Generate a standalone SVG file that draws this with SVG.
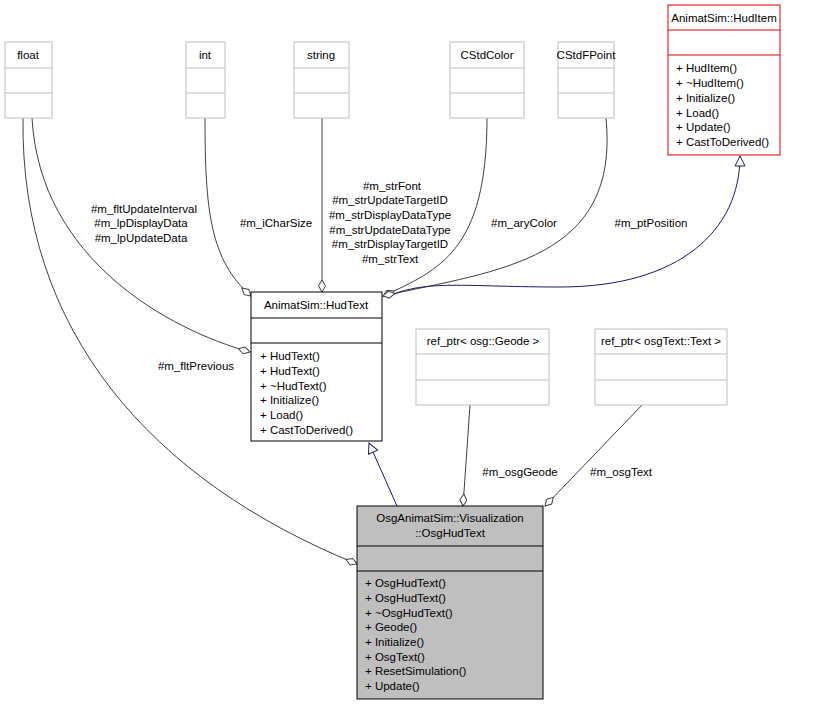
<svg xmlns="http://www.w3.org/2000/svg" width="815" height="705" viewBox="0 0 815 705">
<style>
text{font-family:"Liberation Sans","DejaVu Sans",sans-serif;font-size:11.5px;fill:#000}
.g{fill:#fff;stroke:#bfbfbf;stroke-width:1}
.b{fill:#fff;stroke:#000;stroke-width:1}
.r{fill:#fff;stroke:#e00000;stroke-width:1}
.e{fill:none;stroke:#404040;stroke-width:1}
.i{fill:none;stroke:#191970;stroke-width:1}
.m{text-anchor:middle}
</style>
<defs>
<marker id="dia" viewBox="0 0 14 8" refX="13" refY="4" markerWidth="14" markerHeight="8" orient="auto" markerUnits="userSpaceOnUse"><path d="M1,4 L7,0.5 L13,4 L7,7.5 Z" fill="#fff" stroke="#404040"/></marker>
<marker id="tri" viewBox="0 0 12 12" refX="11" refY="6" markerWidth="12" markerHeight="12" orient="auto" markerUnits="userSpaceOnUse"><path d="M1,1 L11,6 L1,11 Z" fill="#fff" stroke="#191970"/></marker>
</defs>
<g id="connectors">
<path class="e" d="M32,118 C40,260 170,330 250,352" marker-end="url(#dia)"/>
<path class="e" d="M23,118 C20,330 150,480 357,564" marker-end="url(#dia)"/>
<path class="e" d="M205,118 C205,210 210,260 251,296" marker-end="url(#dia)"/>
<path class="e" d="M322,118 L322,292" marker-end="url(#dia)"/>
<path class="e" d="M487,118 C487,250 440,270 383,296" marker-end="url(#dia)"/>
<path class="e" d="M606,118 C620,260 500,270 383,296" marker-end="url(#dia)"/>
<path class="i" d="M394,294 C430,280 470,287 560,287 C680,287 740,230 740,156" marker-end="url(#tri)"/>
<path class="i" d="M397,506 L369,443" marker-end="url(#tri)"/>
<path class="e" d="M470,405 L463,506" marker-end="url(#dia)"/>
<path class="e" d="M642,405 L545,506" marker-end="url(#dia)"/>
<text x="144" y="213" class="m">#m_fltUpdateInterval</text>
<text x="141" y="227" class="m">#m_lpDisplayData</text>
<text x="141" y="242" class="m">#m_lpUpdateData</text>
<text x="276" y="227" class="m">#m_iCharSize</text>
<text x="392" y="190" class="m">#m_strFont</text>
<text x="390" y="204" class="m">#m_strUpdateTargetID</text>
<text x="390" y="219" class="m">#m_strDisplayDataType</text>
<text x="390" y="234" class="m">#m_strUpdateDataType</text>
<text x="390" y="248" class="m">#m_strDisplayTargetID</text>
<text x="390" y="263" class="m">#m_strText</text>
<text x="524" y="227" class="m">#m_aryColor</text>
<text x="651" y="227" class="m">#m_ptPosition</text>
<text x="196" y="370" class="m">#m_fltPrevious</text>
<text x="520" y="476" class="m">#m_osgGeode</text>
<text x="621" y="476" class="m">#m_osgText</text>
</g>
<g id="float"><rect class="g" x="5" y="42" width="47" height="76"/><path class="g" d="M5,68H52M5,93H52"/><text x="28" y="59" class="m">float</text></g>
<g id="int"><rect class="g" x="186" y="42" width="39" height="76"/><path class="g" d="M186,68H225M186,93H225"/><text x="205" y="59" class="m">int</text></g>
<g id="string"><rect class="g" x="294" y="42" width="55" height="76"/><path class="g" d="M294,68H349M294,93H349"/><text x="321" y="59" class="m">string</text></g>
<g id="CStdColor"><rect class="g" x="450" y="42" width="74" height="76"/><path class="g" d="M450,68H524M450,93H524"/><text x="487" y="59" class="m">CStdColor</text></g>
<g id="CStdFPoint"><rect class="g" x="558" y="42" width="56" height="76"/><path class="g" d="M558,68H614M558,93H614"/><text x="586" y="59" class="m">CStdFPoint</text></g>
<g id="HudItem"><rect class="r" x="668" y="5" width="112" height="150"/><path class="r" d="M668,30H780M668,55H780"/><text x="724" y="22" class="m">AnimatSim::HudItem</text>
<text x="676" y="72">+ HudItem()</text><text x="676" y="87">+ ~HudItem()</text><text x="676" y="102">+ Initialize()</text><text x="676" y="117">+ Load()</text><text x="676" y="131">+ Update()</text><text x="676" y="146">+ CastToDerived()</text></g>
<g id="HudText"><rect class="b" x="251" y="292" width="131" height="149"/><path class="b" d="M251,318H382M251,343H382"/><text x="316" y="309" class="m">AnimatSim::HudText</text>
<text x="260" y="360">+ HudText()</text><text x="260" y="375">+ HudText()</text><text x="260" y="390">+ ~HudText()</text><text x="260" y="404">+ Initialize()</text><text x="260" y="419">+ Load()</text><text x="260" y="434">+ CastToDerived()</text></g>
<g id="Geode"><rect class="g" x="416" y="329" width="133" height="76"/><path class="g" d="M416,354H549M416,380H549"/><text x="483" y="345" class="m">ref_ptr&lt; osg::Geode &gt;</text></g>
<g id="TextRef"><rect class="g" x="595" y="329" width="132" height="76"/><path class="g" d="M595,354H727M595,380H727"/><text x="661" y="345" class="m">ref_ptr&lt; osgText::Text &gt;</text></g>
<g id="OsgHudText"><rect x="357" y="506" width="186" height="193" fill="#bfbfbf" stroke="#000"/><path class="b" d="M357,546H543M357,571H543"/><text x="450" y="522" class="m">OsgAnimatSim::Visualization</text><text x="450" y="537" class="m">::OsgHudText</text>
<text x="365" y="587">+ OsgHudText()</text><text x="365" y="602">+ OsgHudText()</text><text x="365" y="617">+ ~OsgHudText()</text><text x="365" y="631">+ Geode()</text><text x="365" y="646">+ Initialize()</text><text x="365" y="661">+ OsgText()</text><text x="365" y="675">+ ResetSimulation()</text><text x="365" y="690">+ Update()</text></g>
</svg>
